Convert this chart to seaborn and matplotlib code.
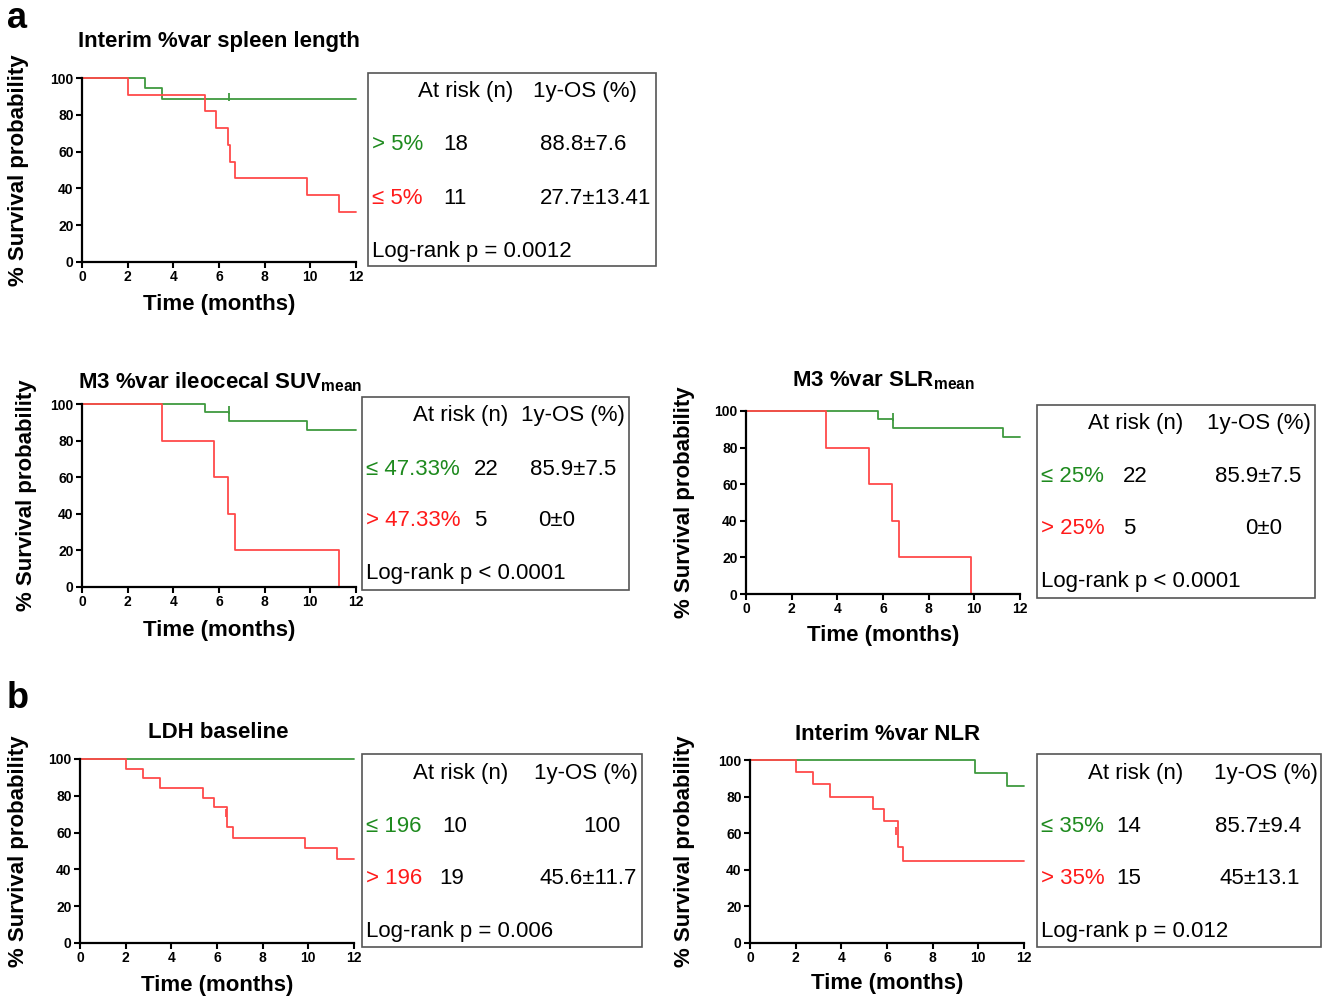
import matplotlib
matplotlib.use("Agg")
import matplotlib.pyplot as plt
from matplotlib.patches import Rectangle
import seaborn as sns

# ---- data (time in months, survival in %) ----
spleen_hi_t = [0, 2.75, 3.5, 12]
spleen_hi_s = [100, 94.4, 88.8, 88.8]
spleen_lo_t = [0, 2.0, 5.4, 5.85, 6.4, 6.5, 6.7, 9.85, 11.25, 12]
spleen_lo_s = [100, 90.9, 81.8, 72.7, 63.6, 54.5, 45.4, 36.4, 27.3, 27.3]

suv_lo_t = [0, 5.4, 6.45, 9.85, 12]
suv_lo_s = [100, 95.5, 90.9, 85.9, 85.9]
suv_hi_t = [0, 3.5, 5.8, 6.4, 6.7, 11.25]
suv_hi_s = [100, 80, 60, 40, 20, 0]

slr_lo_t = [0, 5.8, 6.45, 11.25, 12]
slr_lo_s = [100, 95.5, 90.9, 85.9, 85.9]
slr_hi_t = [0, 3.5, 5.4, 6.4, 6.7, 9.85]
slr_hi_s = [100, 80, 60, 40, 20, 0]

ldh_lo_t = [0, 12]
ldh_lo_s = [100, 100]
ldh_hi_t = [0, 2.0, 2.75, 3.5, 5.4, 5.85, 6.45, 6.7, 9.85, 11.25, 12]
ldh_hi_s = [100, 94.7, 89.5, 84.2, 78.9, 73.7, 63.0, 57.3, 51.5, 45.6, 45.6]

nlr_lo_t = [0, 9.85, 11.25, 12]
nlr_lo_s = [100, 92.9, 85.7, 85.7]
nlr_hi_t = [0, 2.0, 2.75, 3.5, 5.4, 5.85, 6.5, 6.7, 12]
nlr_hi_s = [100, 93.3, 86.7, 80, 73.3, 66.7, 52.5, 45, 45]

# censor marks (time, survival, group)
spleen_cens = [(6.45, 89.8, "g")]
suv_cens = [(6.45, 96.5, "g")]
slr_cens = [(6.45, 96.5, "g")]
ldh_cens = [(6.4, 70.5, "r")]
nlr_cens = [(6.4, 61.0, "r")]

titles = ["Interim %var spleen length",
          r"M3 %var ileocecal SUV$_{\mathbf{mean}}$",
          r"M3 %var SLR$_{\mathbf{mean}}$",
          "LDH baseline",
          "Interim %var NLR"]
group_labels = [("> 5%", "\u2264 5%"), ("\u2264 47.33%", "> 47.33%"),
                ("\u2264 25%", "> 25%"), ("\u2264 196", "> 196"),
                ("\u2264 35%", "> 35%")]
at_risk = [("18", "11"), ("22", "5"), ("22", "5"), ("10", "19"), ("14", "15")]
os_1y = [("88.8\u00b17.6", "27.7\u00b113.41"), ("85.9\u00b17.5", "0\u00b10"),
         ("85.9\u00b17.5", "0\u00b10"), ("100", "45.6\u00b111.7"),
         ("85.7\u00b19.4", "45\u00b113.1")]
p_values = ["Log-rank p = 0.0012", "Log-rank p < 0.0001", "Log-rank p < 0.0001",
            "Log-rank p = 0.006", "Log-rank p = 0.012"]

curves = [
    (spleen_hi_t, spleen_hi_s, spleen_lo_t, spleen_lo_s, spleen_cens),
    (suv_lo_t, suv_lo_s, suv_hi_t, suv_hi_s, suv_cens),
    (slr_lo_t, slr_lo_s, slr_hi_t, slr_hi_s, slr_cens),
    (ldh_lo_t, ldh_lo_s, ldh_hi_t, ldh_hi_s, ldh_cens),
    (nlr_lo_t, nlr_lo_s, nlr_hi_t, nlr_hi_s, nlr_cens),
]

# ---- layout (pixels) ----
W, H = 1322, 998
GREEN_LINE, RED_LINE = "#3f9a3f", "#ff4a4a"
GREEN_TXT, RED_TXT = "#1e8a1e", "#ff1a1a"

# axes: x0, x1, y(100), y(0)
axes_px = [(82, 356, 78, 262), (82, 356, 404, 587), (746, 1020, 411, 594),
           (80, 354, 759, 943), (750, 1024, 760, 943)]
ylabel_cx = [18, 26, 684, 18, 684]
xlabel_cy = [305, 631, 636, 986, 984]
title_pos = [(219, 42), (220, 382), (883, 381), (218, 733), (888, 734)]
# table: box (x0, y0, x1, y1), header xs, label x, count xs, value xs, row ys
tables = [
    dict(box=(368, 73, 656, 266), hx=(418, 533), lx=372, cx=(443, 443), vx=(540, 540), ys=(92, 145, 198, 251)),
    dict(box=(362, 397, 629, 590), hx=(413, 521), lx=366, cx=(474, 474), vx=(530, 538), ys=(416, 469, 521, 574)),
    dict(box=(1037, 405, 1315, 598), hx=(1088, 1207), lx=1041, cx=(1123, 1123), vx=(1215, 1245), ys=(424, 477, 529, 582)),
    dict(box=(362, 754, 642, 947), hx=(413, 534), lx=366, cx=(442, 439), vx=(583, 539), ys=(773, 826, 878, 931)),
    dict(box=(1037, 754, 1321, 947), hx=(1088, 1214), lx=1041, cx=(1116, 1116), vx=(1215, 1220), ys=(773, 826, 878, 931)),
]

sns.set_style("ticks")
plt.rcParams["font.family"] = ["Liberation Sans", "DejaVu Sans"]
plt.rcParams["mathtext.fontset"] = "custom"
plt.rcParams["mathtext.bf"] = "Liberation Sans:bold"
plt.rcParams["mathtext.rm"] = "Liberation Sans"
for key in ("text.color", "axes.labelcolor", "xtick.color", "ytick.color"):
    plt.rcParams[key] = "black"

fig = plt.figure(figsize=(W / 100, H / 100), dpi=100)


def fx(x):
    return x / W


def fy(y):
    return 1 - y / H


for i, (gt, gs, rt, rs, cens) in enumerate(curves):
    x0, x1, ytop, ybot = axes_px[i]
    ax = fig.add_axes([fx(x0), fy(ybot), (x1 - x0) / W, (ybot - ytop) / H])
    sns.lineplot(x=gt, y=gs, drawstyle="steps-post", color=GREEN_LINE, lw=1.3,
                 estimator=None, ax=ax, clip_on=False)
    sns.lineplot(x=rt, y=rs, drawstyle="steps-post", color=RED_LINE, lw=1.3,
                 estimator=None, ax=ax, clip_on=False)
    for ct, cs, grp in cens:
        ax.plot([ct], [cs], marker="|", ms=6, mew=1.3,
                color=GREEN_LINE if grp == "g" else RED_LINE)
    ax.set_xlim(0, 12)
    ax.set_ylim(0, 100)
    ax.set_xticks(range(0, 13, 2))
    ax.set_yticks(range(0, 101, 20))
    sns.despine(ax=ax)
    for sp in ("left", "bottom"):
        ax.spines[sp].set_linewidth(1.6)
        ax.spines[sp].set_color("black")
    ax.tick_params(width=1.5, length=4, labelsize=10, pad=2, color="black",
                   labelcolor="black")
    for lab in ax.get_xticklabels() + ax.get_yticklabels():
        lab.set_fontweight("bold")
    hpx = ybot - ytop
    wpx = x1 - x0
    ax.set_ylabel("% Survival probability", fontsize=16, fontweight="bold")
    ax.yaxis.set_label_coords((ylabel_cx[i] + 11 - x0) / wpx, 0.5)
    ax.set_xlabel("Time (months)", fontsize=16, fontweight="bold")
    ax.xaxis.set_label_coords(0.5, -(xlabel_cy[i] - 11 - ybot) / hpx)

    tx, ty = title_pos[i]
    fig.text(fx(tx), fy(ty), titles[i], fontsize=16, fontweight="bold",
             ha="center", va="center")

    tb = tables[i]
    bx0, by0, bx1, by1 = tb["box"]
    fig.add_artist(Rectangle((fx(bx0), fy(by1)), (bx1 - bx0) / W, (by1 - by0) / H,
                             transform=fig.transFigure, fill=False,
                             edgecolor="#555555", lw=1.2))
    ys = tb["ys"]
    fs = 16
    fig.text(fx(tb["hx"][0]), fy(ys[0]), "At risk (n)", fontsize=fs, va="center")
    fig.text(fx(tb["hx"][1]), fy(ys[0]), "1y-OS (%)", fontsize=fs, va="center")
    for r, col in enumerate((GREEN_TXT, RED_TXT)):
        yy = fy(ys[r + 1])
        fig.text(fx(tb["lx"]), yy, group_labels[i][r], fontsize=fs, va="center", color=col)
        fig.text(fx(tb["cx"][r]), yy, at_risk[i][r], fontsize=fs, va="center")
        fig.text(fx(tb["vx"][r]), yy, os_1y[i][r], fontsize=fs, va="center")
    fig.text(fx(tb["lx"]), fy(ys[3]), p_values[i], fontsize=fs, va="center")

fig.text(fx(7), fy(19), "a", fontsize=26, fontweight="bold", va="center")
fig.text(fx(7), fy(699), "b", fontsize=26, fontweight="bold", va="center")

fig.savefig("out.png", dpi=100, facecolor="white")
